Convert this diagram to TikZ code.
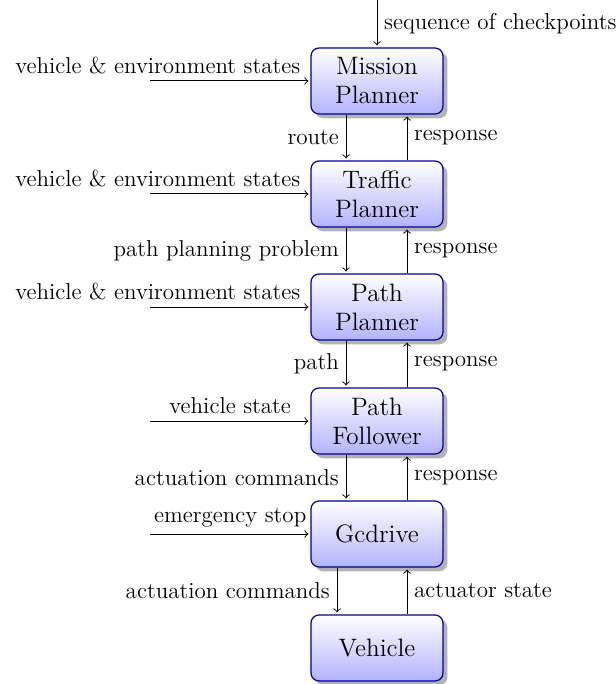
\documentclass[tikz,border=0pt]{standalone}
\usetikzlibrary{shadows}
\begin{document}
\begin{tikzpicture}[x=0.5pt,y=-0.5pt,
  every node/.style={font=\fontsize{11.5}{13.8}\selectfont},
  blockbox/.style={draw=blue!60!black, rounded corners=4pt, top color=white, bottom color=blue!30,
    minimum width=66pt, minimum height=33pt, align=center, font=\fontsize{12.6}{14.5}\selectfont,
    drop shadow={opacity=0.6}, line width=0.6pt},
  flow/.style={->, line width=0.5pt, shorten >=1pt}]
\useasboundingbox (0,0) rectangle (615,684);
\node[blockbox] (mp)  at (377,81)  {Mission\\Planner};
\node[blockbox] (tp)  at (377,194) {Traffic\\Planner};
\node[blockbox] (pp)  at (377,307) {Path\\Planner};
\node[blockbox] (pf)  at (377,421) {Path\\Follower};
\node[blockbox] (gd)  at (377,534) {Gcdrive};
\node[blockbox] (veh) at (377,648) {Vehicle};

% top input
\coordinate (top) at (377,0);
\draw[flow] (top) -- (mp.north) node[midway,right]{sequence of checkpoints};

% left inputs
\coordinate (i1) at (150,81);
\coordinate (i2) at (150,194);
\coordinate (i3) at (150,307);
\coordinate (i4) at (150,421);
\coordinate (i5) at (150,534);
\draw[flow] (i1) -- (mp.west) node[pos=1,above left,xshift=-1.5pt]{vehicle \& environment states};
\draw[flow] (i2) -- (tp.west) node[pos=1,above left,xshift=-1.5pt]{vehicle \& environment states};
\draw[flow] (i3) -- (pp.west) node[pos=1,above left,xshift=-1.5pt]{vehicle \& environment states};
\draw[flow] (i4) -- (pf.west) node[midway,above]{vehicle state};
\draw[flow] (i5) -- (gd.west) node[midway,above]{emergency stop};

% down arrows
\draw[flow] ([xshift=-15.5pt]mp.south) -- ([xshift=-15.5pt]tp.north) node[midway,left]{route};
\draw[flow] ([xshift=-15.5pt]tp.south) -- ([xshift=-15.5pt]pp.north) node[midway,left]{path planning problem};
\draw[flow] ([xshift=-15.5pt]pp.south) -- ([xshift=-15.5pt]pf.north) node[midway,left]{path};
\draw[flow] ([xshift=-15.5pt]pf.south) -- ([xshift=-15.5pt]gd.north) node[midway,left]{actuation commands};
\draw[flow] ([xshift=-20pt]gd.south) -- ([xshift=-20pt]veh.north) node[midway,left]{actuation commands};

% up arrows
\draw[flow] ([xshift=15pt]tp.north) -- ([xshift=15pt]mp.south) node[midway,right]{response};
\draw[flow] ([xshift=15pt]pp.north) -- ([xshift=15pt]tp.south) node[midway,right]{response};
\draw[flow] ([xshift=15pt]pf.north) -- ([xshift=15pt]pp.south) node[midway,right]{response};
\draw[flow] ([xshift=15pt]gd.north) -- ([xshift=15pt]pf.south) node[midway,right]{response};
\draw[flow] ([xshift=15pt]veh.north) -- ([xshift=15pt]gd.south) node[midway,right]{actuator state};
\end{tikzpicture}
\end{document}
